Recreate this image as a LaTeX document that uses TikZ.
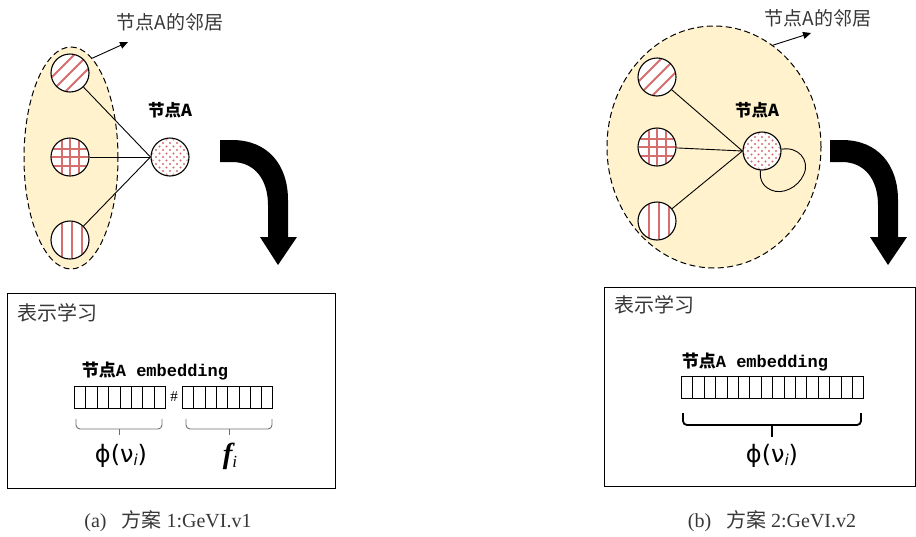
\documentclass[tikz,border=0pt]{standalone}
\usepackage{fontspec}
\setmainfont{Liberation Serif}
\setmonofont{Liberation Mono}
\newfontfamily\cjk{Noto Sans CJK SC}
\newfontfamily\grk{DejaVu Sans}
\usetikzlibrary{shapes.geometric,arrows.meta}
\definecolor{fillY}{HTML}{FFF2CC}
\definecolor{hatch}{RGB}{214,110,110}
\definecolor{brc}{RGB}{110,110,110}
\definecolor{txtg}{RGB}{55,55,55}
\tikzset{
  nb/.style={circle, draw, line width=1.1pt, minimum size=38pt, inner sep=0pt},
  hl/.style={draw=hatch, line width=2pt},
  hood/.style={ellipse, draw, dash pattern=on 6pt off 3.5pt, line width=1pt, fill=fillY, inner sep=0pt},
  edge/.style={line width=0.9pt},
  lbl/.style={font=\cjk\fontsize{19}{22}\selectfont, text=txtg, inner sep=0pt},
  nodelbl/.style={font=\cjk\bfseries\fontsize{16.5}{19}\selectfont, inner sep=0pt},
  embl/.style={font=\fontsize{17}{20}\selectfont, inner sep=0pt},
  cell/.style={draw, line width=0.8pt, minimum height=21.5pt, inner sep=0pt, anchor=north west},
  panel/.style={draw, line width=0.8pt, inner sep=0pt, anchor=north west},
  captxt/.style={font=\fontsize{20}{22}\selectfont, text=txtg, inner sep=0pt},
  ptr/.style={line width=0.9pt, -{Triangle[length=8pt,width=7pt]}},
  bigarrow/.style={fill=black},
}
\newcommand{\patDiag}[2]{%
  \fill[white] (#1,#2) circle (19);
  \begin{scope}\clip (#1,#2) circle (18.5);
  \foreach \k in {-28,-14,0,14,28} \draw[hl] (#1-25,#2+25+\k) -- (#1+25,#2-25+\k);
  \end{scope}}
\newcommand{\patGrid}[2]{%
  \fill[white] (#1,#2) circle (19);
  \begin{scope}\clip (#1,#2) circle (18.5);
  \foreach \k in {-8,0,9} {\draw[hl] (#1+\k,#2-20) -- (#1+\k,#2+20);
                           \draw[hl] (#1-20,#2+\k) -- (#1+20,#2+\k);}
  \end{scope}}
\newcommand{\patVert}[2]{%
  \fill[white] (#1,#2) circle (19);
  \begin{scope}\clip (#1,#2) circle (18.5);
  \foreach \k in {-8,2,12} \draw[hl] (#1+\k,#2-20) -- (#1+\k,#2+20);
  \end{scope}}
\newcommand{\patDots}[2]{%
  \fill[white] (#1,#2) circle (19);
  \begin{scope}\clip (#1,#2) circle (18);
  \foreach \i in {-3,...,3} \foreach \j in {-3,...,3} {
     \fill[hatch] (#1+\i*7,#2+\j*7) circle (1.1);
     \fill[hatch] (#1+\i*7+3.5,#2+\j*7+3.5) circle (1.1);}
  \end{scope}}
\newcommand{\turnArrow}[2]{%
  \fill[bigarrow,shift={(#1,#2)}] (0,0) -- (12,0) .. controls (48,0) and (68,25) .. (68,60)
     -- (68,97) -- (77,97) -- (58,125) -- (40,97) -- (48,97) -- (48,65)
     .. controls (48,40) and (35,22) .. (12,22) -- (0,22) -- cycle;}
\newcommand{\phiv}{{\grk\fontsize{24}{26}\selectfont ϕ(ν\raisebox{-3pt}{\fontsize{15}{17}\selectfont\itshape i})}}
\begin{document}
\begin{tikzpicture}[x=1pt,y=-1pt]
\useasboundingbox (0,0) rectangle (916,536);

% ---------------- left panel ----------------
\node[hood, minimum width=94pt, minimum height=222pt] (hoodL) at (71,158) {};
\node[lbl] (hoodLtxt) at (170,22) {节点A的邻居};
\coordinate (hoodLend) at (128,42);
\draw[ptr] (hoodL.78) -- (hoodLend);

\patDiag{70}{73}\patGrid{70}{157}\patVert{70}{240}\patDots{170}{157}
\node[nb] (L1) at (70,73) {};
\node[nb] (L2) at (70,157) {};
\node[nb] (L3) at (70,240) {};
\node[nb] (LA) at (170,157) {};
\node[nodelbl] (LAt) at (170,110) {节点A};
\draw[edge] (L1) -- (LA.west);
\draw[edge] (L2) -- (LA.west);
\draw[edge] (L3) -- (LA.west);

\turnArrow{220}{140}

\node[panel, minimum width=328pt, minimum height=195pt] (boxL) at (7,293) {};
\node[lbl, font=\cjk\fontsize{20}{22}\selectfont, anchor=west] (boxLt) at (17,313) {表示学习};
\node[embl] (embL) at (155,371) {{\cjk\bfseries 节点}\ttfamily\bfseries A embedding};
\foreach \c in {0,...,7} \node[cell, minimum width=11.4pt] (la\c) at (74+\c*11.4,386) {};
\node[inner sep=0pt, font=\fontsize{15}{16}\selectfont] (hashL) at (174,397) {\#};
\foreach \c in {0,...,7} \node[cell, minimum width=11.3pt] (lb\c) at (182+\c*11.3,386) {};
\draw[brc, line width=0.9pt, rounded corners=4pt] (76,419) -- (76,429) -- (162,429) -- (162,419);
\draw[brc, line width=0.9pt] (119,429) -- (119,435);
\draw[brc, line width=0.9pt, rounded corners=4pt] (186,419) -- (186,429) -- (272,429) -- (272,419);
\draw[brc, line width=0.9pt] (229,429) -- (229,435);
\node[inner sep=0pt] (phiL) at (121,456) {\phiv};
\node[inner sep=0pt] (fL) at (230,456) {\fontsize{29}{30}\selectfont\bfseries\itshape f\raisebox{-4pt}{\fontsize{17}{18}\selectfont\mdseries i}};

\node[captxt] (capL) at (168,521) {(a)\ \ \ {\cjk 方案}\ 1:GeVI.v1};

% ---------------- right panel ----------------
\node[hood, minimum width=214pt, minimum height=242pt] (hoodR) at (714,147) {};
\node[lbl] (hoodRtxt) at (818,18) {节点A的邻居};
\coordinate (hoodRend) at (811,33);
\draw[ptr] (hoodR.60) -- (hoodRend);

\patDiag{657}{77}\patGrid{657}{147}\patVert{657}{221}\patDots{762}{151}
\node[nb] (R1) at (657,77) {};
\node[nb] (R2) at (657,147) {};
\node[nb] (R3) at (657,221) {};
\node[nb] (RA) at (762,151) {};
\node[nodelbl] (RAt) at (757,110) {节点A};
\draw[edge] (R1) -- (RA.west);
\draw[edge] (R2) -- (RA.west);
\draw[edge] (R3) -- (RA.west);
\draw[edge] (RA.5) .. controls (798,146) and (810,160) .. (804,174)
   .. controls (798,188) and (782,195) .. (771,190)
   .. controls (760,185) and (760,176) .. (RA.-95);

\turnArrow{830}{140}

\node[panel, minimum width=311pt, minimum height=199pt] (boxR) at (604,287) {};
\node[lbl, font=\cjk\fontsize{20}{22}\selectfont, anchor=west] (boxRt) at (614,305) {表示学习};
\node[embl] (embR) at (755,362) {{\cjk\bfseries 节点}\ttfamily\bfseries A embedding};
\foreach \c in {0,...,15} \node[cell, minimum width=11.4pt] (rc\c) at (681+\c*11.4,376) {};
\draw[line width=1.8pt, rounded corners=4pt] (683,413) -- (683,425) -- (861,425) -- (861,413);
\draw[line width=2.2pt] (772,425) -- (772,437);
\node[inner sep=0pt] (phiR) at (772,456) {\phiv};

\node[captxt] (capR) at (772,521) {(b)\ \ \ {\cjk 方案}\ 2:GeVI.v2};
\end{tikzpicture}
\end{document}
